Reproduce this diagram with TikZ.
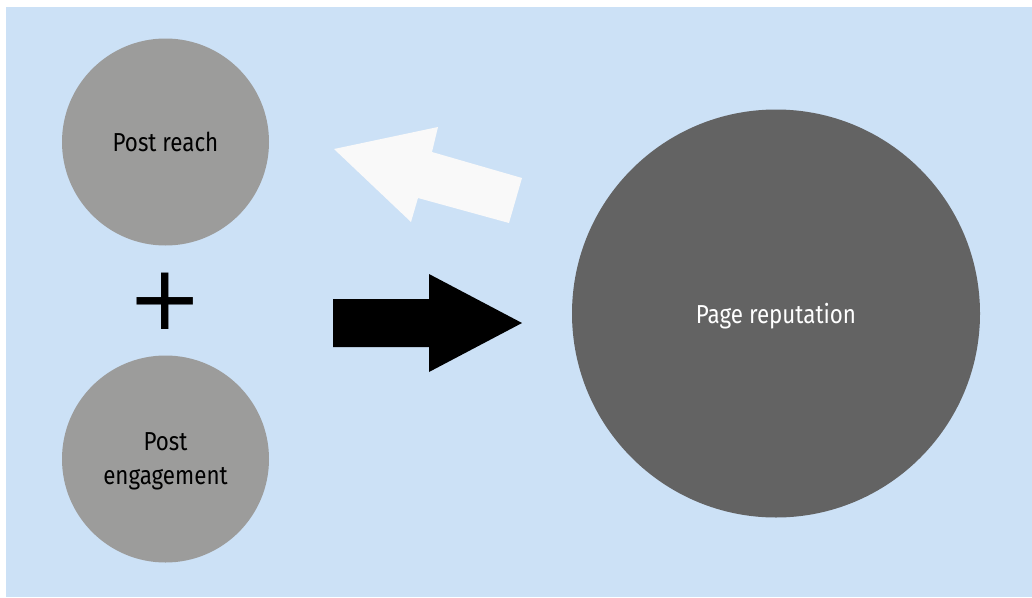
\documentclass[tikz,border=0pt]{standalone}
\usepackage{fontspec}
\setmainfont{Fira Sans}[FakeStretch=0.86]
\newfontfamily\plusfont{DejaVu Sans}
\definecolor{bgblue}{HTML}{CCE1F6}
\definecolor{lgrey}{HTML}{9C9C9B}
\definecolor{dgrey}{HTML}{636363}
\definecolor{offwhite}{HTML}{F9F9F9}
\tikzset{
  small/.style={circle, fill=lgrey, minimum size=207pt, inner sep=0pt, text=black, font=\fontsize{26}{34}\selectfont, align=center, text depth=0pt},
  big/.style={circle, fill=dgrey, minimum size=408pt, inner sep=0pt, text=white, font=\fontsize{26}{34}\selectfont, text depth=0pt},
}
\begin{document}
\begin{tikzpicture}[x=1pt,y=-1pt]
\useasboundingbox (0,0) rectangle (1032,597);
\fill[bgblue] (6,7) rectangle (1032,597);
\node[small] (reach) at (165.5,142) {Post reach};
\node[small] (eng) at (165.5,459) {Post\\engagement};
\node[big] (rep) at (776,313.5) {Page reputation};
\node[font=\plusfont\fontsize{90}{90}\selectfont, inner sep=0pt] (plus) at (165,301) {+};
\fill[black] (333,299) -- (429,299) -- (429,274) -- (522,323) -- (429,372) -- (429,347) -- (333,347) -- cycle;
\fill[offwhite] (334,149) -- (438,127) -- (432,152) -- (522,178) -- (509,223) -- (418,198) -- (411,222) -- cycle;
\end{tikzpicture}
\end{document}
